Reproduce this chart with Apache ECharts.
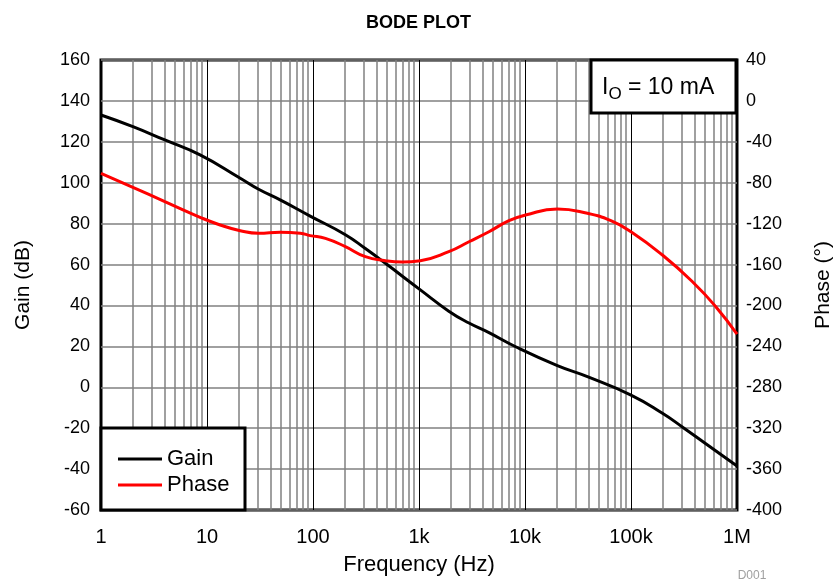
<!DOCTYPE html>
<html>
<head>
<meta charset="utf-8">
<script src="https://cdn.jsdelivr.net/npm/echarts@6/dist/echarts.min.js"></script>
<style>html,body{margin:0;padding:0;background:#fff}#c{width:837px;height:585px}</style>
</head>
<body>
<div id="c"></div>
<script>
// Data
const gainFreq = [1, 2, 4, 8.6, 20.6, 30.7, 49, 94, 202, 312, 482, 1030, 1910, 2960, 4570, 8170, 20200, 38800, 100000, 198000, 307000, 508000, 1000000];
const gainDb   = [133.1, 127.4, 120.9, 113.6, 102.2, 96.8, 91.6, 83.7, 74.6, 67.8, 60.6, 47.6, 37.2, 31.4, 26.7, 19.8, 10.6, 5.2, -3.8, -12.7, -19.5, -27.6, -38.5];
const phaseFreq = [1, 2, 4, 8.6, 13.3, 20.6, 30.7, 49, 76, 94, 131, 202, 312, 482, 693, 1030, 1910, 2960, 4570, 7060, 10100, 20200, 38800, 64600, 100000, 198000, 380000, 631000, 1000000];
const phaseDeg  = [-70.8, -84.5, -98.5, -113.8, -121.3, -126.9, -129.4, -128.4, -129.4, -131.7, -134.4, -142.5, -152.3, -156.2, -157.5, -156.2, -147.4, -137.7, -127.9, -117.1, -111.6, -105.7, -109.9, -117.1, -127.9, -150.7, -176.8, -201.2, -228];
const xTickValues = [1, 10, 100, 1000, 10000, 100000, 1000000];
const xTickLabels = ['1', '10', '100', '1k', '10k', '100k', '1M'];
const gainTicks = [-60, 160, 20];
const phaseTicks = [-400, 40, 40];

const font = 'Liberation Sans, Arial, Helvetica, sans-serif';
const gridLines = [];
for (let k = 0; k < 6; k++) {
  const base = Math.pow(10, k);
  for (let m = 1; m <= 9; m++) {
    if (m === 1 && k === 0) continue;
    gridLines.push({
      xAxis: m * base,
      lineStyle: m === 1 ? {color: '#000', width: 1, type: 'solid'} : {color: '#808080', width: 1.5, type: 'solid'}
    });
  }
}

const chart = echarts.init(document.getElementById('c'), null, {renderer: 'canvas'});
chart.setOption({
  animation: false,
  backgroundColor: '#fff',
  title: {
    text: 'BODE PLOT', left: 'center', top: 9,
    textStyle: {fontFamily: font, fontSize: 18, fontWeight: 'bold', color: '#000'}
  },
  grid: {left: 101, right: 100, top: 60, bottom: 75, show: true, borderColor: '#000', borderWidth: 3, backgroundColor: 'transparent', outerBoundsMode: 'none', containLabel: false},
  legend: {
    data: ['Gain', 'Phase'], orient: 'vertical', left: 113, top: 443,
    itemWidth: 44, itemHeight: 3, itemGap: 4, itemTextGap: 16, icon: 'rect', z: 30,
    textStyle: {fontFamily: font, fontSize: 22, color: '#000'}
  },
  xAxis: {
    type: 'log', logBase: 10, min: 1, max: 1000000,
    name: 'Frequency (Hz)', nameLocation: 'middle', nameGap: 44,
    nameTextStyle: {fontFamily: font, fontSize: 22, color: '#000'},
    axisLine: {show: false}, axisTick: {show: false}, splitLine: {show: false},
    axisLabel: {
      fontFamily: font, fontSize: 20, color: '#000', margin: 17,
      formatter: v => { const i = xTickValues.findIndex(t => Math.abs(t - v) / t < 1e-6); return i >= 0 ? xTickLabels[i] : ''; }
    }
  },
  yAxis: [{
    type: 'value', min: gainTicks[0], max: gainTicks[1], interval: gainTicks[2],
    name: 'Gain (dB)', nameLocation: 'middle', nameGap: 67, nameRotate: 90,
    nameTextStyle: {fontFamily: font, fontSize: 21, color: '#000'},
    axisLine: {show: false}, axisTick: {show: false},
    axisLabel: {fontFamily: font, fontSize: 18, color: '#000', margin: 11},
    splitLine: {show: true, lineStyle: {color: '#808080', width: 1.5}}
  }, {
    type: 'value', min: phaseTicks[0], max: phaseTicks[1], interval: phaseTicks[2],
    name: 'Phase (°)', nameLocation: 'middle', nameGap: 76, nameRotate: 90,
    nameTextStyle: {fontFamily: font, fontSize: 21, color: '#000'},
    axisLine: {show: false}, axisTick: {show: false},
    axisLabel: {fontFamily: font, fontSize: 18, color: '#000', margin: 9},
    splitLine: {show: false}
  }],
  series: [{
    name: 'grid', type: 'line', z: 1, silent: true, symbol: 'none',
    data: [[1, -60]], lineStyle: {opacity: 0},
    markLine: {silent: true, symbol: ['none', 'none'], label: {show: false}, animation: false, data: gridLines}
  }, {
    name: 'Gain', type: 'line', yAxisIndex: 0, smooth: 0.5, symbol: 'none', z: 5,
    lineStyle: {color: '#000', width: 3}, itemStyle: {color: '#000'},
    data: gainFreq.map((f, i) => [f, gainDb[i]])
  }, {
    name: 'Phase', type: 'line', yAxisIndex: 1, smooth: 0.5, symbol: 'none', z: 6,
    lineStyle: {color: '#ff0000', width: 3}, itemStyle: {color: '#ff0000'},
    data: phaseFreq.map((f, i) => [f, phaseDeg[i]])
  }],
  graphic: [{
    type: 'rect', z: 20, shape: {x: 591, y: 60, width: 145, height: 53},
    style: {fill: '#fff', stroke: '#000', lineWidth: 3}
  }, {
    type: 'text', z: 21, x: 602, y: 88,
    style: {
      text: '{a|I}{b|O}{a| = 10 mA}', verticalAlign: 'middle', fill: '#000',
      rich: {a: {fontFamily: font, fontSize: 23, color: '#000'}, b: {fontFamily: font, fontSize: 17, color: '#000', padding: [12, 0, 0, 0]}}
    }
  }, {
    type: 'rect', z: 20, shape: {x: 101, y: 428, width: 144, height: 82},
    style: {fill: '#fff', stroke: '#000', lineWidth: 3}
  }, {
    type: 'text', z: 21, x: 752, y: 576,
    style: {text: 'D001', textAlign: 'center', verticalAlign: 'middle', fill: '#a0a0a0', fontFamily: font, fontSize: 12}
  }]
});
</script>
</body>
</html>
